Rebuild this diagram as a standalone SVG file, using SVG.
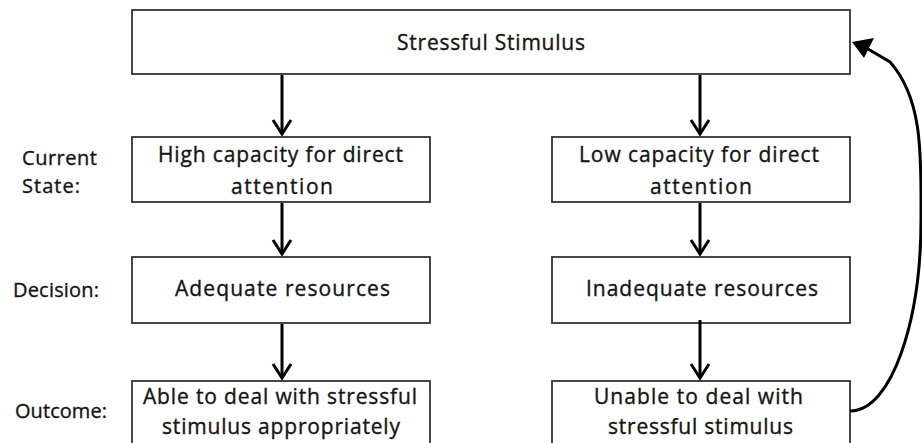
<svg xmlns="http://www.w3.org/2000/svg" width="922" height="443" viewBox="0 0 922 443">
<style>
  .box { fill: #ffffff; stroke: #333333; stroke-width: 1.8; }
  .t { font-family: "Open Sans", "Liberation Sans", sans-serif; font-size: 21px; fill: #141414; stroke: #141414; stroke-width: 0.35; }
  .lab { font-family: "Open Sans", "Liberation Sans", sans-serif; font-size: 20px; fill: #141414; stroke: #141414; stroke-width: 0.35; }
  .conn { fill: none; stroke: #000000; stroke-width: 3; }
</style>
<defs>
  <marker id="vhead" markerUnits="userSpaceOnUse" markerWidth="40" markerHeight="40" viewBox="-20 -20 40 40" refX="0" refY="0" orient="auto" overflow="visible">
    <path d="M-14,-9 L0,0 L-14,9" fill="none" stroke="#000000" stroke-width="3"/>
  </marker>
</defs>
<rect width="922" height="443" fill="#ffffff"/>

<g id="labels">
  <text class="lab" x="22" y="165" textLength="75" lengthAdjust="spacing">Current</text>
  <text class="lab" x="22" y="193" textLength="58" lengthAdjust="spacing">State:</text>
  <text class="lab" x="13" y="297" textLength="86" lengthAdjust="spacing">Decision:</text>
  <text class="lab" x="15" y="418" textLength="92" lengthAdjust="spacing">Outcome:</text>
</g>

<g id="node-stimulus">
  <rect class="box" x="132" y="10" width="718" height="64"/>
  <text class="t" x="397" y="50" textLength="188" lengthAdjust="spacing">Stressful Stimulus</text>
</g>

<g id="node-high">
  <rect class="box" x="132" y="137" width="298" height="65"/>
  <text class="t" x="158" y="162" textLength="245" lengthAdjust="spacing">High capacity for direct</text>
  <text class="t" x="231" y="194" textLength="102" lengthAdjust="spacing">attention</text>
</g>

<g id="node-low">
  <rect class="box" x="552" y="137" width="298" height="65"/>
  <text class="t" x="579" y="162" textLength="240" lengthAdjust="spacing">Low capacity for direct</text>
  <text class="t" x="650" y="194" textLength="102" lengthAdjust="spacing">attention</text>
</g>

<g id="node-adequate">
  <rect class="box" x="132" y="257" width="298" height="66"/>
  <text class="t" x="175" y="296" textLength="215" lengthAdjust="spacing">Adequate resources</text>
</g>

<g id="node-inadequate">
  <rect class="box" x="552" y="257" width="298" height="66"/>
  <text class="t" x="586" y="296" textLength="232" lengthAdjust="spacing">Inadequate resources</text>
</g>

<g id="node-able">
  <rect class="box" x="132" y="381" width="298" height="72"/>
  <text class="t" x="143" y="404" textLength="274" lengthAdjust="spacing">Able to deal with stressful</text>
  <text class="t" x="162" y="434" textLength="238" lengthAdjust="spacing">stimulus appropriately</text>
</g>

<g id="node-unable">
  <rect class="box" x="552" y="381" width="298" height="72"/>
  <text class="t" x="594" y="404" textLength="209" lengthAdjust="spacing">Unable to deal with</text>
  <text class="t" x="608" y="434" textLength="185" lengthAdjust="spacing">stressful stimulus</text>
</g>

<g id="connectors">
  <line class="conn" x1="282" y1="75" x2="282" y2="134" marker-end="url(#vhead)"/>
  <line class="conn" x1="700" y1="75" x2="700" y2="134" marker-end="url(#vhead)"/>
  <line class="conn" x1="282" y1="203" x2="282" y2="254" marker-end="url(#vhead)"/>
  <line class="conn" x1="700" y1="203" x2="700" y2="254" marker-end="url(#vhead)"/>
  <line class="conn" x1="282" y1="324" x2="282" y2="378" marker-end="url(#vhead)"/>
  <line class="conn" x1="700" y1="320" x2="700" y2="378" marker-end="url(#vhead)"/>
  <path class="conn" d="M850,411 C892,411 921,320 921,220 C921,160 924,100 890,62 L868,49"/>
  <polygon points="852,42 874,38 864,58" fill="#000000"/>
</g>
</svg>
